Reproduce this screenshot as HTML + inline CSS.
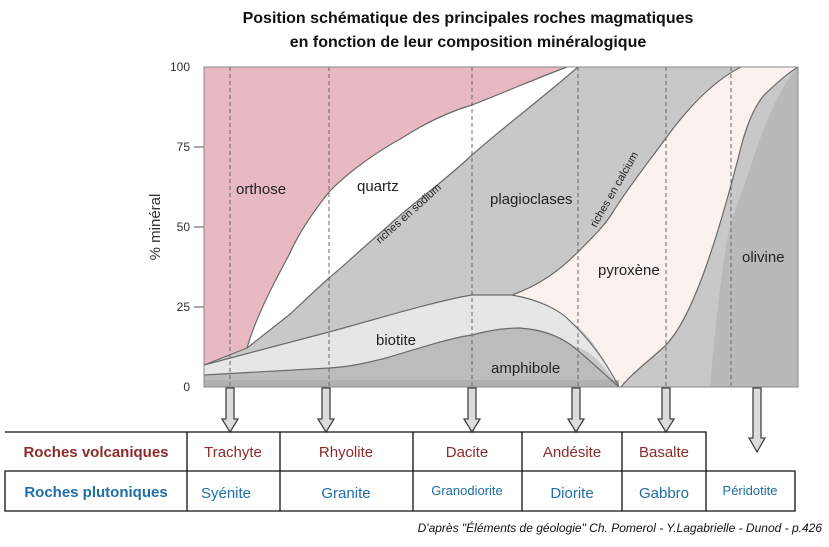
<!DOCTYPE html>
<html><head><meta charset="utf-8"><style>
html,body{margin:0;padding:0;background:#fff;width:829px;height:547px;overflow:hidden}
svg{display:block}
</style></head><body>
<svg width="829" height="547" viewBox="0 0 829 547" xmlns="http://www.w3.org/2000/svg" font-family="Liberation Sans, sans-serif">
<text x="468" y="23" text-anchor="middle" font-size="16" font-weight="bold" fill="#111">Position schématique des principales roches magmatiques</text>
<text x="468" y="47" text-anchor="middle" font-size="16" font-weight="bold" fill="#111">en fonction de leur composition minéralogique</text>
<rect x="204" y="67" width="594" height="320" fill="#c8c8c8"/>
<path d="M204,67 L567,67 C520,85 480,100 472,105 C440,118 402,138 402,138 C370,160 340,180 329,192 C310,215 295,240 289,255 C270,290 255,320 247,348 L204,365 Z" fill="#e8b9c2"/>
<path d="M247,348 C255,320 270,290 289,255 C300,230 315,210 329,192 C350,170 380,150 402,138 C430,120 455,110 472,105 C510,90 545,75 567,67 L578,67 C540,100 500,130 472,155 C440,185 410,205 386,228 C360,250 345,265 329,278 C310,295 300,305 289,315 Z" fill="#ffffff"/>
<path d="M512,295 C540,285 560,270 578,252 C595,235 605,225 613,212 C630,185 650,160 666,138 C690,105 715,80 741,67 L798,67 C785,75 775,85 764,95 C752,110 745,130 739,155 C730,190 720,225 710,255 C695,300 680,330 666,345 C650,360 630,375 621,387 L619,387 C600,350 585,330 571,322 C550,305 530,297 512,295 Z" fill="#fbf2ef"/>
<path d="M798,67 C785,80 770,110 756,150 C745,185 735,210 731,222 C722,260 715,330 710,387 L798,387 Z" fill="#b9b9b9"/>
<path d="M204,365 C260,350 300,340 329,332 C380,318 440,300 472,295 L512,295 C540,300 560,310 571,322 C590,340 605,360 619,387 C600,360 590,350 571,345 C550,330 535,328 520,328 C500,330 485,332 472,335 C430,345 400,355 386,358 C360,366 345,368 329,368 L204,375 Z" fill="#e6e6e6"/>
<path d="M204,375 L329,368 C350,367 370,362 386,358 C420,348 450,338 472,335 C490,330 505,328 520,328 C545,330 560,337 571,345 C590,360 605,375 619,387 L204,387 Z" fill="#bcbcbc"/>
<rect x="204" y="380" width="415" height="7" fill="#b0b0b0"/>
<g fill="none" stroke="#6a6a6a" stroke-width="1.2">
<path d="M247,348 C255,320 270,290 289,255 C300,230 315,210 329,192 C350,170 380,150 402,138 C430,120 455,110 472,105 C510,90 545,75 567,67"/>
<path d="M204,365 L247,348 L289,315 C300,305 310,295 329,278 C345,265 360,250 386,228 C410,205 440,185 472,155 C500,130 540,100 578,67"/>
<path d="M512,295 C540,285 560,270 578,252 C595,235 605,225 613,212 C630,185 650,160 666,138 C690,105 715,80 741,67"/>
<path d="M204,365 C260,350 300,340 329,332 C380,318 440,300 472,295 L512,295 C540,300 560,310 571,322 C590,340 605,360 619,387"/>
<path d="M204,375 L329,368 C350,367 370,362 386,358 C420,348 450,338 472,335 C490,330 505,328 520,328 C545,330 560,337 571,345 C590,360 605,375 619,387"/>
<path d="M621,387 C630,375 650,360 666,345 C680,330 695,300 710,255 C720,225 730,190 739,155 C745,130 752,110 764,95 C775,85 785,75 798,67"/>
</g>
<g stroke="#666" stroke-width="1" stroke-dasharray="4,3">
<line x1="230" y1="67" x2="230" y2="387"/><line x1="329" y1="67" x2="329" y2="387"/><line x1="472" y1="67" x2="472" y2="387"/><line x1="578" y1="67" x2="578" y2="387"/><line x1="666" y1="67" x2="666" y2="387"/><line x1="731" y1="67" x2="731" y2="387"/>
</g>
<rect x="204" y="67" width="594" height="320" fill="none" stroke="#888"/>
<g font-size="12" fill="#333" text-anchor="end">
<text x="190" y="71">100</text><text x="190" y="151">75</text><text x="190" y="231">50</text><text x="190" y="311">25</text><text x="190" y="391">0</text>
</g>
<g stroke="#555"><line x1="194" y1="147" x2="204" y2="147"/><line x1="194" y1="227" x2="204" y2="227"/><line x1="194" y1="307" x2="204" y2="307"/></g>
<text transform="translate(160,227) rotate(-90)" text-anchor="middle" font-size="15" fill="#333">% minéral</text>
<g font-size="15" fill="#222">
<text x="236" y="194">orthose</text>
<text x="357" y="191">quartz</text>
<text x="490" y="204">plagioclases</text>
<text x="598" y="275">pyroxène</text>
<text x="742" y="262">olivine</text>
<text x="376" y="345">biotite</text>
<text x="491" y="373">amphibole</text>
</g>
<text transform="translate(380,244) rotate(-42)" font-size="11" fill="#222">riches en sodium</text>
<text transform="translate(596,228) rotate(-60)" font-size="11" fill="#222">riches en calcium</text>
<g fill="#dcdcdc" stroke="#444" stroke-width="1.3">
<path d="M226,388 L234,388 L234,419 L238,419 L230,432 L222,419 L226,419 Z"/>
<path d="M322,388 L330,388 L330,419 L334,419 L326,432 L318,419 L322,419 Z"/>
<path d="M468,388 L476,388 L476,419 L480,419 L472,432 L464,419 L468,419 Z"/>
<path d="M572,388 L580,388 L580,419 L584,419 L576,432 L568,419 L572,419 Z"/>
<path d="M662,388 L670,388 L670,419 L674,419 L666,432 L658,419 L662,419 Z"/>
<path d="M753,388 L761,388 L761,438 L765,438 L757,452 L749,438 L753,438 Z"/>
</g>
<g fill="none" stroke="#111" stroke-width="1.3">
<path d="M5,432 L706,432 L706,471 M5,471 L795,471 L795,511 L5,511 Z"/>
<path d="M187,432 V511 M280,432 V511 M413,432 V511 M522,432 V511 M622,432 V511 M706,471 V511"/>
</g>
<g font-family="Liberation Sans Narrow, Liberation Sans, sans-serif" font-size="15" text-anchor="middle" fill="#8b2b2b">
<text x="96" y="457" font-weight="bold">Roches volcaniques</text>
<text x="233" y="457">Trachyte</text><text x="346" y="457">Rhyolite</text><text x="467" y="457">Dacite</text><text x="572" y="457">Andésite</text><text x="664" y="457">Basalte</text>
</g>
<g font-family="Liberation Sans Narrow, Liberation Sans, sans-serif" font-size="15" text-anchor="middle" fill="#1f6ea8">
<text x="96" y="497" font-weight="bold">Roches plutoniques</text>
<text x="226" y="498">Syénite</text><text x="346" y="498">Granite</text><text x="467" y="495" font-size="13">Granodiorite</text><text x="572" y="498">Diorite</text><text x="664" y="498">Gabbro</text><text x="750" y="495" font-size="13">Péridotite</text>
</g>
<text x="822" y="532" text-anchor="end" font-family="Liberation Sans Narrow, Liberation Sans, sans-serif" font-size="12" font-style="italic" fill="#111">D'après "Éléments de géologie" Ch. Pomerol - Y.Lagabrielle - Dunod - p.426</text>
</svg>
</body></html>
